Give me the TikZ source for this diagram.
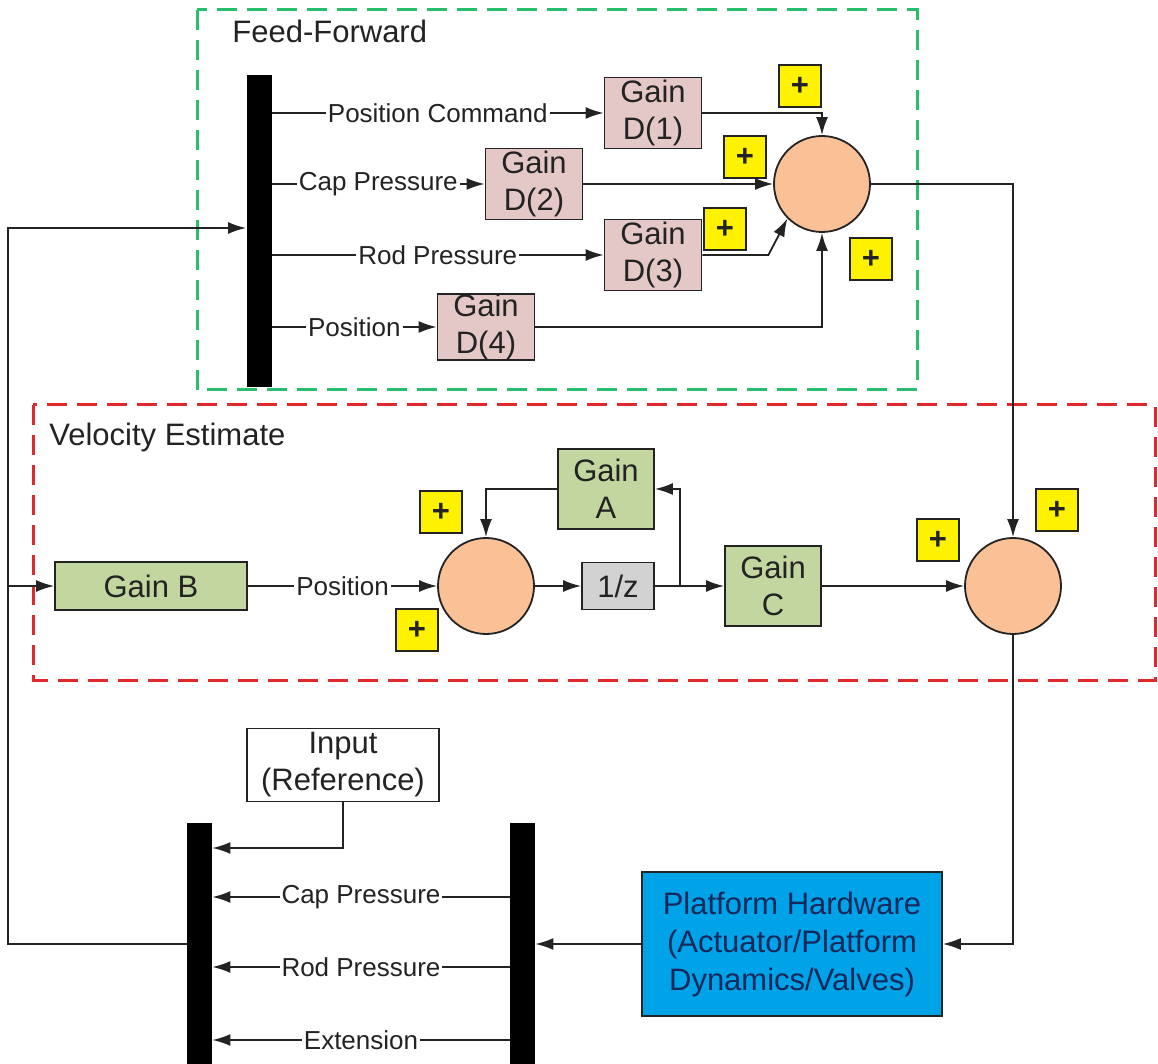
\documentclass[tikz,border=0pt]{standalone}
\usepackage{fontspec}
\setmainfont{Liberation Sans}
\usepackage{tikz}
\usetikzlibrary{arrows.meta,positioning,calc}
\definecolor{ffpink}{RGB}{228,200,200}
\definecolor{vgreen}{RGB}{196,214,160}
\definecolor{sumpeach}{RGB}{250,192,150}
\definecolor{ffdash}{RGB}{40,190,110}
\definecolor{vdash}{RGB}{225,40,45}
\definecolor{hwblue}{RGB}{0,162,232}
\definecolor{hwtext}{RGB}{20,40,90}
\definecolor{ink}{RGB}{35,35,35}

\begin{document}
\begin{tikzpicture}[x=0.5pt,y=-0.5pt,
  blk/.style={draw=ink,line width=0.9pt,align=center,inner sep=0pt,
              font=\fontsize{15.5}{18.5}\selectfont,text=ink},
  ffgain/.style={blk,fill=ffpink,minimum width=48.5pt,minimum height=35.5pt},
  vgain/.style={blk,fill=vgreen},
  sum/.style={circle,draw=ink,line width=0.9pt,fill=sumpeach,minimum size=48pt,inner sep=0pt},
  sgn/.style={draw=ink,line width=0.9pt,fill=yellow,minimum width=21pt,minimum height=21pt,
              inner sep=0pt,font=\fontsize{15.5}{18}\selectfont\bfseries,text=ink},
  bus/.style={fill=black,inner sep=0pt,minimum width=12.5pt},
  arr/.style={-{Latex[length=9pt,width=6pt]},line width=0.9pt,draw=ink},
  lbl/.style={font=\fontsize{13}{15}\selectfont,fill=white,inner sep=1pt,text=ink},
  grp/.style={dash pattern=on 10pt off 5pt,line width=1.5pt},
  ttl/.style={anchor=base west,inner sep=0pt,font=\fontsize{15.5}{18}\selectfont,text=ink}
]
\useasboundingbox (0,0) rectangle (1158,1064);

% Dashed group frames
\draw[grp,ffdash] (197,10) rectangle (917,390);
\draw[grp,vdash]  (33,405) rectangle (1155,680);
\node[ttl] (fftitle) at (232,43)  {Feed-Forward};
\node[ttl] (vtitle)  at (49,446)  {Velocity Estimate};

% Feed-forward gains
\node[bus,minimum height=156pt] (ffbus) at (259,231) {};
\node[ffgain] (d1) at (653,113) {Gain\\D(1)};
\node[ffgain] (d2) at (534,184) {Gain\\D(2)};
\node[ffgain] (d3) at (653,255) {Gain\\D(3)};
\node[ffgain,minimum height=32pt] (d4) at (486,327) {Gain\\D(4)};
\node[sum] (sumff) at (822,184) {};
\node[sgn] (sff1) at (800,86)  {+};
\node[sgn] (sff2) at (745,157) {+};
\node[sgn] (sff3) at (725,229) {+};
\node[sgn] (sff4) at (871,259) {+};

% Velocity estimate
\node[vgain,minimum width=96pt,minimum height=24pt] (gainb) at (151,586) {Gain B};
\node[sum] (sumv) at (486,586) {};
\node[blk,fill=gray!35,minimum width=36pt,minimum height=23.5pt] (delay) at (618,586) {1/z};
\node[vgain,minimum width=48pt,minimum height=40pt] (gaina) at (606,489) {Gain\\A};
\node[vgain,minimum width=48pt,minimum height=40pt] (gainc) at (773,586) {Gain\\C};
\node[sum] (sumout) at (1013,586) {};
\node[sgn] (sv1) at (441,512)  {+};
\node[sgn] (sv2) at (417,630)  {+};
\node[sgn] (so1) at (938,540)  {+};
\node[sgn] (so2) at (1057,510) {+};
\coordinate (tap) at (680,586);

% Plant and signal buses
\node[blk,fill=white,minimum width=96pt,minimum height=36.5pt] (ref) at (343,765) {Input\\(Reference)};
\node[bus,minimum height=120.5pt] (mux)   at (199.5,943.5) {};
\node[bus,minimum height=120.5pt] (demux) at (522.5,943.5) {};
\node[blk,fill=hwblue,text=hwtext,minimum width=150pt,minimum height=72pt,
      font=\fontsize{15.5}{19}\selectfont] (plant) at (792,944)
      {Platform Hardware\\(Actuator/Platform\\Dynamics/Valves)};
\coordinate (fbtop) at (8,228);
\coordinate (refin) at (0,848);
\coordinate (ycap)  at (0,897);
\coordinate (yrod)  at (0,967);
\coordinate (yext)  at (0,1040);

% Feed-forward signals
\draw[arr] (ffbus.east |- d1) -- node[lbl]{Position Command} (d1);
\draw[arr] (ffbus.east |- d2) -- node[lbl]{Cap Pressure} (d2);
\draw[arr] (ffbus.east |- d3) -- node[lbl]{Rod Pressure} (d3);
\draw[arr] (ffbus.east |- d4) -- node[lbl]{Position} (d4);
\draw[arr] (d1.east) -| (sumff.north);
\draw[arr] (d2.east) -- (sumff.west);
\draw[arr] (d3.east) -- ++(66,0) -- (sumff.south west);
\draw[arr] (d4.east) -| (sumff.south);
\draw[arr] (sumff.east) -| (sumout.north);

% Velocity loop
\draw[arr] (gainb) -- node[lbl]{Position} (sumv);
\draw[arr] (sumv) -- (delay);
\draw[arr] (delay) -- (gainc);
\draw[arr] (tap) |- (gaina.east);
\draw[arr] (gaina.west) -| (sumv.north);
\draw[arr] (gainc) -- (sumout);

% Plant and feedback
\draw[arr] (sumout.south) |- (plant.east);
\draw[arr] (plant.west) -- (demux.east |- plant.west);
\draw[arr] (demux.west |- ycap) -- node[lbl]{Cap Pressure} (mux.east |- ycap);
\draw[arr] (demux.west |- yrod) -- node[lbl]{Rod Pressure} (mux.east |- yrod);
\draw[arr] (demux.west |- yext) -- node[lbl]{Extension} (mux.east |- yext);
\draw[arr] (ref.south) |- (mux.east |- refin);
\draw[arr] (mux.west |- plant.west) -| (fbtop) -- (fbtop -| ffbus.west);
\draw[arr] (fbtop |- gainb) -- (gainb.west);
\end{tikzpicture}
\end{document}
